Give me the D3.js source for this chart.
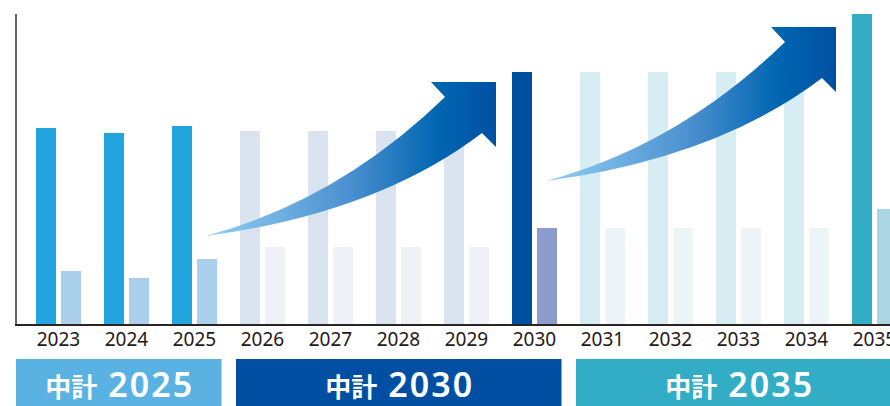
<!DOCTYPE html>
<html>
<head>
<meta charset="utf-8">
<script src="https://cdn.jsdelivr.net/npm/d3@7"></script>
<style>
  html, body { margin: 0; padding: 0; background: #fff; }
  svg { display: block; }
</style>
</head>
<body>
<svg id="chart" width="890" height="406"></svg>
<script>
var years = ["2023","2024","2025","2026","2027","2028","2029","2030","2031","2032","2033","2034","2035"];
var mainValues = [197, 192, 199, 194, 194, 194, 194, 253, 253, 253, 253, 253, 311];
var subValues  = [54, 47, 66, 78, 78, 78, 78, 97, 97, 97, 97, 97, 116];

var planNames  = ["2025", "2030", "2035"];
var planStart  = ["2023", "2026", "2031"];
var planEnd    = ["2025", "2030", "2035"];
var planPrefix = "中計";

var width = 890, height = 406;
var axisX = 16, baseY = 325, topY = 14;

var svg = d3.select("#chart");

var x = d3.scaleBand()
  .domain(years)
  .range([24.5, 24.5 + 68 * years.length])
  .paddingInner(23/68)
  .paddingOuter(23/136);

var xSub = d3.scaleBand()
  .domain(["main", "sub"])
  .range([0, x.bandwidth()])
  .paddingInner(0.2);

var y = d3.scaleLinear()
  .domain([0, d3.max(mainValues)])
  .range([baseY, topY]);

// colour per year: actual / plan period / target year
function barColor(year, kind) {
  var yr = +year;
  if (yr <= 2025) return kind == "main" ? "#22a5de" : "#abd0ee";
  if (yr < 2030) return kind == "main" ? "#d9e4f0" : "#f0f1f7";
  if (yr == 2030) return kind == "main" ? "#0050a2" : "#8b9ccd";
  if (yr < 2035) return kind == "main" ? "#d7edf4" : "#eef5f9";
  return kind == "main" ? "#33adc6" : "#acd6e3";
}
var planColors = ["#5ab2e3", "#004fa2", "#33adc6"];

var rows = years.map(function(d, i) {
  return {year: d, main: mainValues[i], sub: subValues[i]};
});

// bars
var groups = svg.append("g").attr("class", "bars")
  .selectAll("g")
  .data(rows)
  .enter().append("g")
  .attr("transform", function(d) { return "translate(" + x(d.year) + ",0)"; });

groups.selectAll("rect")
  .data(function(d) {
    return [{year: d.year, kind: "main", v: d.main}, {year: d.year, kind: "sub", v: d.sub}];
  })
  .enter().append("rect")
  .attr("x", function(d) { return xSub(d.kind); })
  .attr("y", function(d) { return y(d.v); })
  .attr("width", xSub.bandwidth())
  .attr("height", function(d) { return baseY - y(d.v); })
  .attr("fill", function(d) { return barColor(d.year, d.kind); });

// growth arrows
var defs = svg.append("defs");
var grad = defs.append("linearGradient")
  .attr("id", "arrowGrad")
  .attr("x1", 0).attr("y1", 0).attr("x2", 1).attr("y2", 0);
[[0, "#92d0f2"], [0.5, "#4a8fcf"], [0.8, "#0066b1"], [1, "#0050a2"]].forEach(function(s) {
  grad.append("stop").attr("offset", s[0]).attr("stop-color", s[1]);
});

function arrowPath(hx, hy) {
  var p = d3.path();
  p.moveTo(hx - 290, hy + 154);
  p.quadraticCurveTo(hx - 157, hy + 118, hx - 51, hy + 15);
  p.lineTo(hx - 65, hy);
  p.lineTo(hx, hy);
  p.lineTo(hx, hy + 65);
  p.lineTo(hx - 14, hy + 51);
  p.quadraticCurveTo(hx - 119, hy + 131, hx - 290, hy + 154);
  p.closePath();
  return p.toString();
}

var arrowTargets = [
  {year: "2030", v: mainValues[years.indexOf("2030")], dy: 10},
  {year: "2035", v: mainValues[years.indexOf("2035")], dy: 13}
];
svg.append("g").attr("class", "arrows")
  .selectAll("path")
  .data(arrowTargets)
  .enter().append("path")
  .attr("d", function(d) { return arrowPath(x(d.year) - 16, y(d.v) + d.dy); })
  .attr("fill", "url(#arrowGrad)");

// axes
svg.append("line")
  .attr("x1", axisX).attr("x2", axisX)
  .attr("y1", topY).attr("y2", baseY)
  .attr("stroke", "#6b6565").attr("stroke-width", 2);

svg.append("line")
  .attr("x1", axisX - 1).attr("x2", width)
  .attr("y1", baseY).attr("y2", baseY)
  .attr("stroke", "#2a2422").attr("stroke-width", 2);

svg.append("g").attr("class", "xlabels")
  .selectAll("text")
  .data(years)
  .enter().append("text")
  .attr("x", function(d) { return x(d) + x.bandwidth() / 2; })
  .attr("y", 345.5)
  .attr("text-anchor", "middle")
  .attr("font-family", "'Noto Sans', sans-serif")
  .attr("font-size", 19)
  .attr("fill", "#231815")
  .text(function(d) { return d; });

// mid-term plan boxes
var plans = planNames.map(function(d, i) {
  var left = i == 0 ? axisX : x(planStart[i]) - 4;
  var right = x(planEnd[i]) + x.bandwidth() + 4.5;
  return {name: d, left: left, right: right, color: planColors[i]};
});

var plan = svg.append("g").attr("class", "plans")
  .selectAll("g")
  .data(plans)
  .enter().append("g");

plan.append("rect")
  .attr("x", function(d) { return d.left; })
  .attr("y", 359)
  .attr("width", function(d) { return d.right - d.left; })
  .attr("height", height - 359)
  .attr("fill", function(d) { return d.color; });

var planText = plan.append("text")
  .attr("x", function(d) { return (d.left + d.right) / 2 + 1; })
  .attr("y", 397)
  .attr("text-anchor", "middle")
  .attr("fill", "#fff");

planText.append("tspan")
  .attr("font-family", "'Noto Sans CJK JP', sans-serif")
  .attr("font-weight", "bold")
  .attr("font-size", 26)
  .text(planPrefix);
planText.append("tspan")
  .attr("dx", 11)
  .attr("font-family", "'Noto Sans', sans-serif")
  .attr("font-weight", 600)
  .attr("font-size", 34)
  .attr("letter-spacing", 2)
  .text(function(d) { return d.name; });
</script>
</body>
</html>
